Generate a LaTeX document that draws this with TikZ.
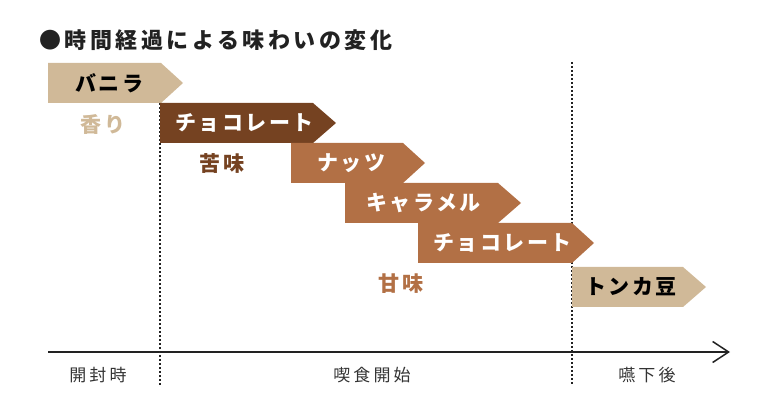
\documentclass[tikz,border=0pt]{standalone}
\usepackage{fontspec}
\setmainfont{Noto Sans CJK JP}
\usepackage{xcolor}
\definecolor{vanillatan}{RGB}{208,185,152}
\definecolor{chocobrown}{RGB}{117,66,33}
\definecolor{nutbrown}{RGB}{178,112,69}
\definecolor{inkgray}{RGB}{51,51,51}
\definecolor{titleblack}{RGB}{34,34,34}
\usepackage{tikz}
\usetikzlibrary{arrows.meta}

\tikzset{
  boxtext/.style={anchor=west, inner sep=0pt, font=\fontsize{21}{21}\selectfont\bfseries\addfontfeature{LetterSpace=12}},
  tastetext/.style={inner sep=0pt, font=\fontsize{21}{21}\selectfont\bfseries\addfontfeature{LetterSpace=15}},
  stagetext/.style={inner sep=0pt, inkgray, font=\fontsize{17}{17}\selectfont\addfontfeature{LetterSpace=18}},
  stageline/.style={line width=1.6pt, dash pattern=on 1.6pt off 2.4pt, titleblack}
}

\begin{document}
\begin{tikzpicture}[x=1pt, y=-1pt]
  \useasboundingbox (0,0) rectangle (769,403);
  % title
  \node[anchor=west, inner sep=0pt, titleblack, font=\fontsize{22}{22}\selectfont\bfseries\addfontfeature{LetterSpace=16}] (title) at (39,40) {●時間経過による味わいの変化};

  % dotted stage borders
  \coordinate (open top) at (160,103);
  \coordinate (open bottom) at (160,385);
  \coordinate (swallow top) at (572,62);
  \coordinate (swallow bottom) at (572,385);
  \draw[stageline] (open top) -- (open bottom);
  \draw[stageline] (swallow top) -- (swallow bottom);

  % time axis
  \coordinate (axis start) at (48,352);
  \coordinate (axis end) at (730,352);
  \draw[line width=1.8pt, titleblack, -{Straight Barb[length=16pt, width=21pt, line width=1.5pt]}] (axis start) -- (axis end);

  % flavour arrows
  \fill[vanillatan] (48,63) -- (161,63) -- (183,83) -- (161,103) -- (48,103) -- cycle;
  \node[boxtext, black] (vanilla) at (75,83) {バニラ};
  \fill[chocobrown] (160,103) -- (313,103) -- (336,123) -- (313,143) -- (160,143) -- cycle;
  \node[boxtext, white] (choco bitter) at (175,123) {チョコレート};
  \fill[nutbrown] (291,143) -- (403,143) -- (425,163) -- (403,183) -- (291,183) -- cycle;
  \node[boxtext, white] (nuts) at (317,163) {ナッツ};
  \fill[nutbrown] (345,183) -- (498,183) -- (521,203) -- (498,223) -- (345,223) -- cycle;
  \node[boxtext, white] (caramel) at (366,203) {キャラメル};
  \fill[nutbrown] (418,223) -- (572,223) -- (594,243) -- (572,263) -- (418,263) -- cycle;
  \node[boxtext, white] (choco sweet) at (433,243) {チョコレート};
  \fill[vanillatan] (572,267) -- (683,267) -- (706,287) -- (683,307) -- (572,307) -- cycle;
  \node[boxtext, black] (tonka) at (585,287) {トンカ豆};

  % taste labels
  \node[tastetext, vanillatan] (aroma) at (103,124) {香り};
  \node[tastetext, chocobrown] (bitter) at (222,164) {苦味};
  \node[tastetext, nutbrown] (sweet) at (401,284) {甘味};

  % stage labels
  \node[stagetext] (opening) at (98,375) {開封時};
  \node[stagetext] (eating) at (372,375) {喫食開始};
  \node[stagetext] (after) at (647,375) {嚥下後};
\end{tikzpicture}
\end{document}
